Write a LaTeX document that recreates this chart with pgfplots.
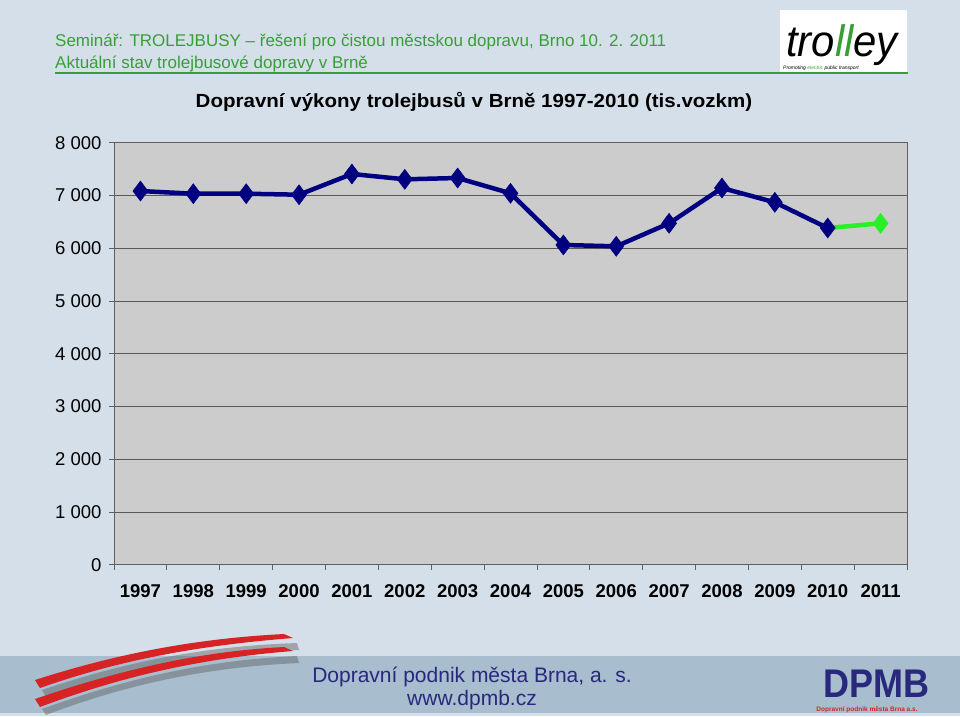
\documentclass[border=0pt]{standalone}
\usepackage{pgfplots}
\pgfplotsset{compat=1.18}
\usepackage{fontspec}
\setmainfont{Liberation Sans}
\definecolor{slidebg}{RGB}{213,223,234}
\definecolor{plotbg}{RGB}{204,204,204}
\definecolor{hdrgreen}{RGB}{56,158,56}
\definecolor{navy}{RGB}{0,0,128}
\definecolor{lgreen}{RGB}{40,240,40}
\definecolor{footbg}{RGB}{168,189,206}
\definecolor{dpmbblue}{RGB}{40,40,125}
\definecolor{swred}{RGB}{215,35,35}
\pgfplotstableread{
x y
0 7084
1 7033
2 7033
3 7014
4 7407
5 7306
6 7331
7 7041
8 6061
9 6036
10 6472
11 7141
12 6870
13 6383
}\navydata
\pgfplotstableread{
x y
13 6383
14 6472
}\greendata
\begin{document}
\begin{tikzpicture}
\fill[slidebg] (0pt,0pt) rectangle (960pt,-716pt);
\fill[footbg] (0pt,-656pt) rectangle (960pt,-713pt);
% header
\node[anchor=base west, inner sep=0pt, text=hdrgreen, font=\fontsize{17}{20}\selectfont] at (55pt,-46pt) {Seminář: TROLEJBUSY – řešení pro čistou městskou dopravu, Brno 10. 2. 2011};
\node[anchor=base west, inner sep=0pt, text=hdrgreen, font=\fontsize{17}{20}\selectfont] at (55pt,-68pt) {Aktuální stav trolejbusové dopravy v Brně};
\fill[white] (780pt,-10pt) rectangle (907pt,-72pt);
\draw[hdrgreen, line width=2pt] (55pt,-73pt) -- (908pt,-73pt);
\node[anchor=base, inner sep=0pt, font=\fontsize{44}{48}\selectfont\itshape, xscale=0.95] at (842pt,-56pt) {tro\textcolor{hdrgreen}{ll}ey};
\node[anchor=base west, inner sep=0pt, font=\fontsize{5}{6}\selectfont\itshape] at (783pt,-69pt) {Promoting \textcolor{hdrgreen}{electric} public transport};
% title
\node[anchor=base, inner sep=0pt, font=\fontsize{19}{22}\selectfont\bfseries, xscale=1.08] at (474pt,-107pt) {Dopravní výkony trolejbusů v Brně 1997-2010 (tis.vozkm)};
% footer swoosh
\fill[gray!75!black, opacity=0.45] (42pt,-690pt) .. controls (130pt,-660pt) and (210pt,-646pt) .. (297pt,-643pt) -- (299pt,-650pt) .. controls (210pt,-654pt) and (130pt,-666pt) .. (46pt,-697pt) -- cycle;
\fill[gray!75!black, opacity=0.45] (42pt,-709pt) .. controls (130pt,-677pt) and (210pt,-660pt) .. (297pt,-656pt) -- (299pt,-663pt) .. controls (210pt,-667pt) and (130pt,-683pt) .. (46pt,-715pt) -- cycle;
\fill[swred] (35pt,-680pt) .. controls (125pt,-651pt) and (205pt,-638pt) .. (284pt,-634pt) -- (293pt,-638pt) .. controls (205pt,-645pt) and (125pt,-658pt) .. (40pt,-688pt) -- cycle;
\fill[swred] (35pt,-699pt) .. controls (125pt,-668pt) and (205pt,-651pt) .. (284pt,-647pt) -- (293pt,-651pt) .. controls (205pt,-658pt) and (125pt,-675pt) .. (40pt,-707pt) -- cycle;
% footer text
\node[anchor=base, inner sep=0pt, text=dpmbblue, font=\fontsize{21}{24}\selectfont] at (472pt,-682pt) {Dopravní podnik města Brna, a. s.};
\node[anchor=base, inner sep=0pt, text=dpmbblue, font=\fontsize{21}{24}\selectfont] at (472pt,-705pt) {www.dpmb.cz};
\node[anchor=base, inner sep=0pt, text=dpmbblue, font=\fontsize{40}{44}\selectfont\bfseries, xscale=0.9] at (876pt,-697pt) {DPMB};
\node[anchor=base, inner sep=0pt, text=swred, font=\fontsize{6.5}{7}\selectfont\bfseries] at (867pt,-711pt) {Dopravní podnik města Brna a.s.};
% chart
\begin{axis}[
  at={(114pt,-564.7pt)}, anchor=south west,
  width=793pt, height=422pt, scale only axis,
  xmin=-0.5, xmax=14.5, ymin=0, ymax=8000,
  axis background/.style={fill=plotbg},
  axis line style={gray!75!black, line width=0.8pt},
  ymajorgrids, grid style={gray!70!black, line width=0.8pt},
  ytick={0,1000,...,8000},
  xtick={-0.5,0.5,...,14.5},
  xticklabels={1997,1998,1999,2000,2001,2002,2003,2004,2005,2006,2007,2008,2009,2010,2011},
  x tick label as interval,
  xtick pos=bottom, ytick pos=left,
  tick align=outside, major tick length=5pt,
  tick style={gray!75!black, line width=0.8pt},
  /pgf/number format/1000 sep={\ },
  /pgf/number format/assume math mode=true,
  yticklabel style={font=\fontsize{18.5}{21}\selectfont, xshift=-4pt},
  xticklabel style={font=\fontsize{18.5}{21}\selectfont\bfseries, yshift=-11pt},
  clip=false,
]
\addplot[lgreen, line width=4.5pt, mark=diamond*, mark size=10pt, mark options={fill=lgreen, draw=lgreen, line width=0.5pt}, mark indices={2}] table[x=x,y=y] {\greendata};
\addplot[navy, line width=4.5pt, mark=diamond*, mark size=10pt, mark options={fill=navy, draw=navy, line width=0.5pt}] table[x=x,y=y] {\navydata};
\end{axis}
\end{tikzpicture}
\end{document}
